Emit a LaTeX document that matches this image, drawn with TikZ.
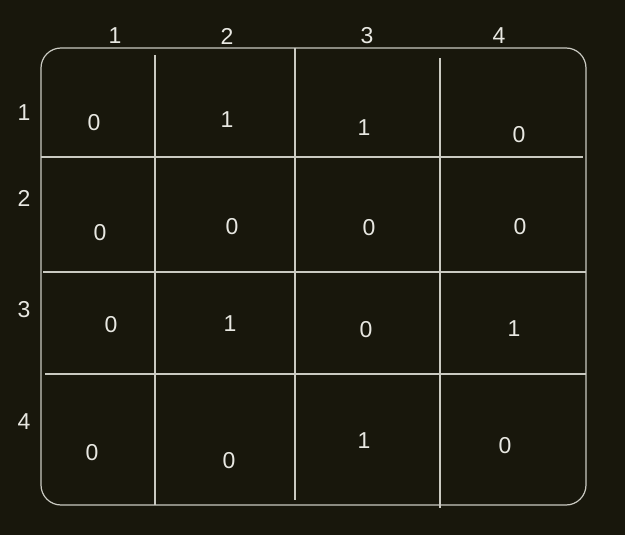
\documentclass[tikz,border=0pt]{standalone}
\usepackage{fontspec}
\setmainfont{Liberation Sans}
\definecolor{board}{HTML}{18170C}
\definecolor{chalk}{HTML}{CACAC2}
\definecolor{digit}{HTML}{E8E8E2}
\begin{document}
\begin{tikzpicture}[x=1pt,y=-1pt,line width=1.2pt,draw=chalk]
	\def \headrow{36}
	\def \labelcol{24}
	\tikzstyle{head}=[text=digit,font=\fontsize{23}{23}\selectfont,inner sep=0pt]
	\tikzstyle{cell}=[text=digit,font=\fontsize{23}{23}\selectfont,inner sep=0pt]
	\tikzstyle{rule}=[draw=chalk,line width=1.2pt]

	% background
	\fill[board] (0,0) rectangle (625,535);
	\useasboundingbox (0,0) rectangle (625,535);

	% frame and grid
	\draw[rule,rounded corners=20pt] (41,48) rectangle (586,505);
	\draw[rule] (155,55) -- (155,505);
	\draw[rule] (295,48) -- (295,500);
	\draw[rule] (440,58) -- (440,508);
	\draw[rule] (41,157) -- (583,157);
	\draw[rule] (43,272) -- (586,272);
	\draw[rule] (45,374) -- (586,374);

	% column numbers
	\node[head] (c1) at (115,\headrow) {1};
	\node[head] (c2) at (227,\headrow) {2};
	\node[head] (c3) at (367,\headrow) {3};
	\node[head] (c4) at (499,\headrow) {4};

	% row numbers
	\node[head] (r1) at (\labelcol,113) {1};
	\node[head] (r2) at (\labelcol,198) {2};
	\node[head] (r3) at (\labelcol,310) {3};
	\node[head] (r4) at (\labelcol,422) {4};

	% row 1
	\node[cell] (a11) at (94,123)  {0};
	\node[cell] (a12) at (227,120) {1};
	\node[cell] (a13) at (364,128) {1};
	\node[cell] (a14) at (519,135) {0};

	% row 2
	\node[cell] (a21) at (100,233) {0};
	\node[cell] (a22) at (232,227) {0};
	\node[cell] (a23) at (369,228) {0};
	\node[cell] (a24) at (520,227) {0};

	% row 3
	\node[cell] (a31) at (111,325) {0};
	\node[cell] (a32) at (230,324) {1};
	\node[cell] (a33) at (366,330) {0};
	\node[cell] (a34) at (514,329) {1};

	% row 4
	\node[cell] (a41) at (92,453)  {0};
	\node[cell] (a42) at (229,461) {0};
	\node[cell] (a43) at (364,441) {1};
	\node[cell] (a44) at (505,446) {0};
\end{tikzpicture}
\end{document}
